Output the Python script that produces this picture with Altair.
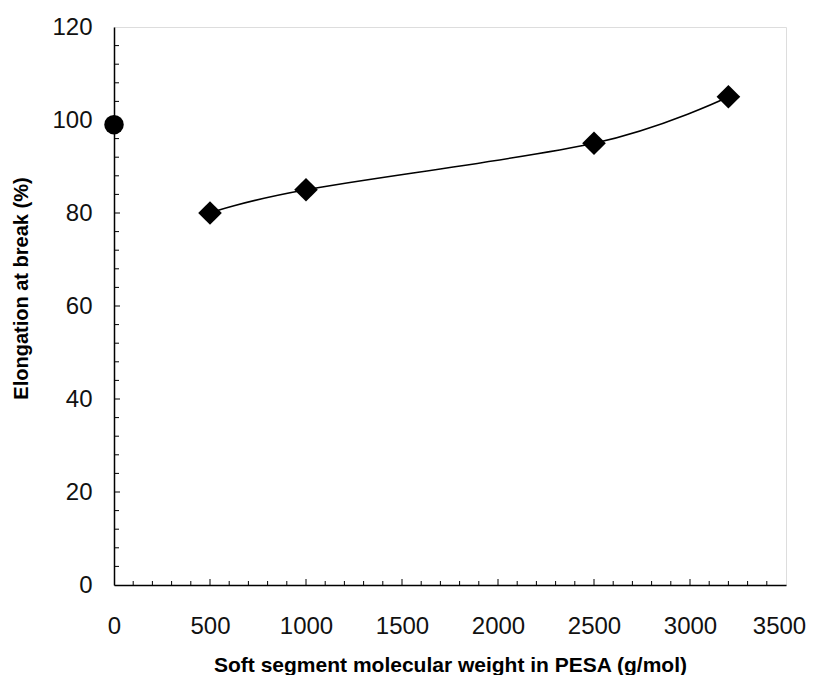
import altair as alt
import pandas as pd

# --- data ---
ref_mw = [0]
ref_elong = [99]
pesa_mw = [500, 1000, 2500, 3200]
pesa_elong = [80, 85, 95, 105]

x_tick_labels = [0, 500, 1000, 1500, 2000, 2500, 3000, 3500]
y_tick_labels = [0, 20, 40, 60, 80, 100, 120]
x_minor = [v for v in range(100, 3500, 100) if v % 500]
x_major = [500, 1000, 1500, 2000, 2500, 3000]
y_minor = [v for v in range(4, 120, 4) if v % 20]
y_major = [20, 40, 60, 80, 100]

W, H = 672, 558
FONT = "Liberation Sans"

xs = alt.Scale(domain=[0, 3500], nice=False, zero=False)
ys = alt.Scale(domain=[0, 120], nice=False, zero=False)

df_ref = pd.DataFrame({"mw": ref_mw, "el": ref_elong})
df_pesa = pd.DataFrame({"mw": pesa_mw, "el": pesa_elong})

x_axis = alt.Axis(
    values=x_tick_labels, format="d", title="Soft segment molecular weight in PESA (g/mol)",
    ticks=False, tickSize=0, grid=False, labelFont=FONT, labelFontSize=24,
    labelColor="#111", labelPadding=48, labelBaseline="alphabetic",
    labelFlush=False, labelOverlap=False,
    labelOffset=alt.condition("datum.value == 3500", alt.value(-7), alt.value(0)),
    domainColor="black", domainWidth=1.5,
    titleFont=FONT, titleFontSize=21, titleFontWeight="bold", titleColor="#000",
    titleX=336, titleY=86, titleAlign="center", titleBaseline="alphabetic",
)
y_axis = alt.Axis(
    values=y_tick_labels, format="d", title="Elongation at break (%)",
    ticks=False, tickSize=0, grid=False, labelFont=FONT, labelFontSize=24,
    labelColor="#111", labelPadding=22, labelBaseline="middle",
    labelFlush=False, labelOverlap=False,
    domainColor="black", domainWidth=1.5,
    titleFont=FONT, titleFontSize=20, titleFontWeight="bold", titleColor="#000",
    titleX=-87, titleY=261, titleAngle=270, titleAlign="center",
    titleBaseline="alphabetic",
)

X = lambda f: alt.X(f, scale=xs, axis=x_axis)
Y = lambda f: alt.Y(f, scale=ys, axis=y_axis)

line = alt.Chart(df_pesa).mark_line(
    color="black", strokeWidth=1.5, interpolate="cardinal"
).encode(x=X("mw:Q"), y=Y("el:Q"))

diamonds = alt.Chart(df_pesa).mark_point(
    shape="diamond", size=560, filled=True, color="black", opacity=1
).encode(x=X("mw:Q"), y=Y("el:Q"))

circle = alt.Chart(df_ref).mark_point(
    shape="circle", size=380, filled=True, color="black", opacity=1
).encode(x=X("mw:Q"), y=Y("el:Q"))

# inward tick marks
xmin_t = alt.Chart(pd.DataFrame({"v": x_minor})).mark_rule(color="black", strokeWidth=1).encode(
    x=X("v:Q"), y=alt.value(H), y2=alt.value(H - 4))
xmaj_t = alt.Chart(pd.DataFrame({"v": x_major})).mark_rule(color="black", strokeWidth=1).encode(
    x=X("v:Q"), y=alt.value(H), y2=alt.value(H - 6))
ymin_t = alt.Chart(pd.DataFrame({"v": y_minor})).mark_rule(color="black", strokeWidth=1).encode(
    y=Y("v:Q"), x=alt.value(0), x2=alt.value(5))
ymaj_t = alt.Chart(pd.DataFrame({"v": y_major})).mark_rule(color="black", strokeWidth=1).encode(
    y=Y("v:Q"), x=alt.value(0), x2=alt.value(6))

chart = alt.layer(line, xmin_t, xmaj_t, ymin_t, ymaj_t, diamonds, circle).properties(
    width=W, height=H,
    autosize=alt.AutoSizeParams(type="none"),
    padding={"left": 106, "top": 19, "right": 20, "bottom": 90},
).configure_view(stroke="#666", strokeWidth=1).configure(background="white")

chart.save("out.html", embed_options={"renderer": "svg", "actions": False})
